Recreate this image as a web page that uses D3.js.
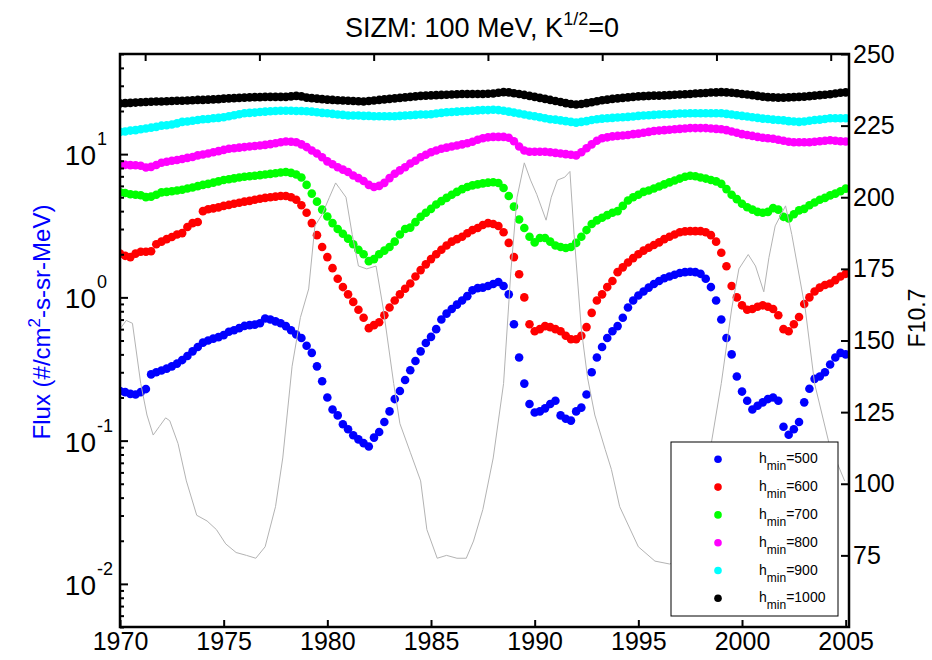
<!DOCTYPE html>
<html>
<head>
<meta charset="utf-8">
<script src="https://cdn.jsdelivr.net/npm/d3@7"></script>
<style>
  body { margin: 0; background: #fff; }
  svg { display: block; font-family: "Liberation Sans", Arial, sans-serif; }
</style>
</head>
<body>
<svg id="chart" width="932" height="660"></svg>
<script>
// sample times of the flux series: every quarter year, 1970.00 .. 2005.00
const sampleYears = d3.range(141).map(i => 1970 + i / 4);

// flux (#/cm2-s-sr-MeV), one row per year
const flux500 = [
  0.222,0.218,0.212,0.210, 0.218,0.229,0.290,0.300, 0.309,0.318,0.330,0.345, 0.365,0.390,0.420,0.450,
  0.483,0.500,0.515,0.528, 0.545,0.575,0.590,0.610, 0.632,0.640,0.645,0.660, 0.712,0.700,0.680,0.660,
  0.630,0.590,0.550,0.520, 0.460,0.410,0.330,0.260, 0.200,0.165,0.150,0.130, 0.120,0.109,0.102,0.096,
  0.091,0.105,0.115,0.135, 0.160,0.195,0.222,0.265, 0.310,0.360,0.420,0.480, 0.530,0.600,0.700,0.770,
  0.830,0.890,0.950,1.020, 1.120,1.160,1.170,1.200, 1.240,1.280,1.200,1.050, 0.650,0.380,0.250,0.180,
  0.157,0.160,0.168,0.180, 0.190,0.150,0.142,0.138, 0.160,0.170,0.210,0.300, 0.380,0.450,0.520,0.580,
  0.630,0.720,0.850,0.950, 1.030,1.100,1.170,1.240, 1.300,1.360,1.400,1.440, 1.480,1.500,1.510,1.500,
  1.460,1.350,1.180,0.950, 0.700,0.520,0.400,0.280, 0.220,0.190,0.165,0.175, 0.185,0.195,0.200,0.190,
  0.125,0.110,0.120,0.135, 0.185,0.230,0.270,0.280, 0.300,0.340,0.380,0.410, 0.400
];
const flux600 = [
  2.02,1.95,1.91,2.02, 2.08,2.08,2.10,2.35, 2.45,2.55,2.64,2.75, 2.81,3.10,3.30,3.36,
  4.00,4.12,4.18,4.25, 4.35,4.42,4.50,4.58, 4.66,4.72,4.80,4.88, 4.95,5.00,5.05,5.10,
  5.10,5.00,4.80,4.40, 3.90,3.30,2.72,2.25, 1.91,1.60,1.35,1.18, 1.05,0.93,0.82,0.72,
  0.61,0.64,0.67,0.75, 0.85,0.95,1.05,1.15, 1.25,1.40,1.55,1.70, 1.85,2.00,2.15,2.30,
  2.45,2.55,2.65,2.80, 2.95,3.05,3.20,3.30, 3.25,3.15,2.85,2.40, 1.91,1.45,1.00,0.65,
  0.58,0.60,0.63,0.62, 0.60,0.58,0.54,0.51, 0.51,0.54,0.62,0.78, 0.95,1.05,1.18,1.30,
  1.50,1.62,1.75,1.88, 2.00,2.12,2.22,2.32, 2.42,2.55,2.65,2.75, 2.85,2.89,2.90,2.90,
  2.90,2.85,2.72,2.45, 2.05,1.65,1.20,1.00, 0.88,0.82,0.83,0.86, 0.88,0.86,0.83,0.75,
  0.60,0.58,0.65,0.73, 0.90,1.00,1.10,1.17, 1.22,1.25,1.32,1.40, 1.46
];
const flux700 = [
  5.41,5.35,5.25,5.20, 5.16,5.01,5.05,5.20, 5.41,5.45,5.50,5.57, 5.64,5.75,5.85,5.98,
  6.10,6.20,6.32,6.45, 6.59,6.68,6.77,6.86, 6.95,7.00,7.07,7.13, 7.20,7.28,7.36,7.44,
  7.51,7.40,7.20,6.87, 6.10,5.30,4.66,4.10, 3.67,3.30,3.00,2.78, 2.57,2.35,2.15,2.00,
  1.79,1.85,2.00,2.12, 2.25,2.45,2.75,3.00, 3.07,3.35,3.65,3.90, 4.15,4.45,4.70,4.95,
  5.20,5.45,5.70,5.90, 6.05,6.15,6.25,6.32, 6.36,6.28,5.80,5.10, 4.30,3.50,3.05,2.65,
  2.42,2.60,2.60,2.45, 2.30,2.25,2.21,2.25, 2.40,2.65,2.95,3.25, 3.45,3.60,3.75,3.90,
  4.00,4.35,4.75,5.00, 5.20,5.45,5.57,5.75, 5.95,6.15,6.35,6.55, 6.75,6.95,7.07,7.00,
  6.87,6.75,6.60,6.45, 6.20,5.70,5.20,4.85, 4.50,4.26,4.10,3.95, 3.90,3.95,4.20,4.10,
  3.65,3.55,3.80,4.05, 4.15,4.40,4.60,4.80, 4.95,5.15,5.30,5.50, 5.74
];
const flux800 = [
  8.46,8.42,8.38,8.36, 8.30,8.07,8.15,8.40, 8.70,8.85,8.98,9.10, 9.25,9.42,9.55,9.80,
  9.95,10.1,10.3,10.5, 10.7,10.9,11.0,11.1, 11.2,11.3,11.4,11.5, 11.6,11.75,11.9,12.1,
  12.25,12.2,12.1,11.7, 11.2,10.6,10.1,9.5, 8.9,8.5,8.1,7.8, 7.5,7.1,6.8,6.5,
  6.1,5.9,6.0,6.3, 6.8,7.3,7.7,8.1, 8.6,9.0,9.5,9.9, 10.3,10.6,10.9,11.1,
  11.3,11.5,11.7,11.9, 12.2,12.6,12.9,13.1, 13.2,13.2,13.2,13.0, 12.3,11.3,10.6,10.4,
  10.4,10.4,10.4,10.3, 10.2,10.1,10.0,9.9, 9.8,10.3,11.0,11.7, 12.4,12.9,13.1,13.3,
  13.4,13.5,13.6,13.8, 13.9,14.1,14.3,14.5, 14.6,14.7,14.8,14.9, 15.0,15.1,15.2,15.2,
  15.2,15.2,15.1,15.0, 14.9,14.7,14.4,14.1, 13.8,13.6,13.4,13.2, 13.0,12.9,12.8,12.6,
  12.4,12.2,12.1,12.1, 12.1,12.1,12.2,12.3, 12.4,12.5,12.4,12.3, 12.25
];
const flux900 = [
  14.3,14.4,14.6,14.7, 14.9,15.1,15.3,15.5, 15.8,15.9,16.1,16.4, 16.8,16.9,17.1,17.3,
  17.5,17.6,17.8,17.9, 18.1,18.4,18.7,19.0, 19.3,19.4,19.5,19.7, 19.8,19.9,20.0,20.1,
  20.1,20.1,20.0,20.0, 19.9,19.8,19.6,19.4, 19.3,19.1,18.9,18.8, 18.6,18.6,18.6,18.5,
  18.5,18.4,18.4,18.4, 18.4,18.4,18.5,18.6, 18.7,18.8,18.9,18.9, 19.0,19.2,19.4,19.6,
  19.7,19.8,19.9,20.0, 20.1,20.2,20.3,20.3, 20.4,20.3,20.1,19.8, 19.5,19.2,18.9,18.6,
  18.4,18.1,17.8,17.5, 17.4,17.2,17.0,16.8, 16.6,16.8,17.0,17.3, 17.5,17.7,17.8,17.9,
  18.0,18.1,18.2,18.3, 18.5,18.6,18.7,18.8, 18.9,19.0,19.0,19.1, 19.2,19.2,19.3,19.3,
  19.3,19.3,19.3,19.3, 19.3,19.1,18.9,18.7, 18.5,18.3,18.1,17.9, 17.7,17.6,17.4,17.3,
  17.2,17.0,16.9,16.8, 16.9,17.1,17.3,17.4, 17.6,17.8,17.8,17.8, 17.8
];
const flux1000 = [
  22.6,22.7,22.8,22.9, 23.0,23.1,23.2,23.3, 23.3,23.4,23.5,23.6, 23.6,23.7,23.8,23.9,
  23.9,24.0,24.1,24.2, 24.4,24.5,24.6,24.7, 24.8,24.9,25.0,25.0, 25.1,25.1,25.1,25.1,
  25.1,25.3,25.5,25.3, 24.8,24.6,24.4,24.2, 24.0,23.9,23.8,23.7, 23.6,23.5,23.4,23.3,
  23.5,23.7,23.9,24.1, 24.3,24.5,24.7,24.9, 25.1,25.3,25.5,25.6, 25.7,25.8,25.9,26.0,
  26.1,26.2,26.3,26.3, 26.3,26.3,26.3,26.4, 26.5,26.8,27.1,27.0, 26.6,26.3,25.9,25.5,
  25.1,24.7,24.3,23.9, 23.5,23.1,22.7,22.4, 22.2,22.4,22.7,23.0, 23.4,23.8,24.0,24.3,
  24.5,24.7,24.9,25.1, 25.3,25.4,25.5,25.6, 25.6,25.7,25.8,26.0, 26.1,26.2,26.3,26.5,
  26.6,26.7,26.9,27.0, 27.1,27.0,26.8,26.6, 26.3,26.1,25.8,25.5, 25.2,25.0,24.9,24.8,
  24.8,24.9,25.0,25.1, 25.2,25.4,25.6,25.8, 26.0,26.2,26.5,26.8, 27.0
];

// F10.7 (right axis), read at the turning points of the grey curve
const f107Years = [
  1970.0,1970.3,1970.6,1971.0,1971.3,1971.6,1971.9,1972.2,1972.4,1972.8,1973.2,1973.7,1974.2,1974.65,
  1975.1,1975.6,1976.1,1976.55,1977.0,1977.5,1977.85,1978.3,1978.7,1979.1,1979.4,1979.75,1980.1,1980.4,
  1980.6,1980.9,1981.2,1981.5,1981.9,1982.35,1982.7,1983.2,1983.5,1984.0,1984.5,1984.8,1985.3,1985.75,
  1986.25,1986.7,1987.05,1987.5,1988.0,1988.5,1988.85,1989.15,1989.5,1989.8,1990.1,1990.55,1990.8,1991.1,
  1991.45,1991.7,1991.9,1992.25,1992.55,1992.9,1993.4,1993.7,1994.1,1995.0,1995.8,1996.5,1997.1,1997.75,
  1998.4,1999.0,1999.5,1999.85,2000.3,2000.65,2001.05,2001.3,2001.6,2002.1,2002.4,2003.05,2003.5,2004.2,2004.95
];
const f107Values = [
  154,157,156,135,124,117,120,123,122,114,101,89,87,84,
  79,76,75,74,78,92,109,141,158,168,190,194,200,205,
  203,200,187,176,175,176,161,135,121,111,101,84,74,75,
  74,74,80,91,109,135,174,200,212,206,201,192,200,206,
  207,209,187,154,137,124,112,105,92,78,73,72,73,74,
  109,135,161,175,180,176,167,179,190,197,187,161,135,114,101
];

const legendLabels = ["500", "600", "700", "800", "900", "1000"];
const seriesColors = ["#0000ff", "#ff0000", "#00ff00", "#ff00ff", "#00ffff", "#000000"];
const xTickYears = [1970, 1975, 1980, 1985, 1990, 1995, 2000, 2005];
const topTickValues = [1970, 1975, 1980, 1985, 1990, 1995, 2000];
const fluxMajor = [0.01, 0.1, 1, 10];
const fluxExponents = ["-2", "-1", "0", "1"];
const f107Ticks = [75, 100, 125, 150, 175, 200, 225, 250];

const allFlux = [flux500, flux600, flux700, flux800, flux900, flux1000];

// layout
const W = 932, H = 660;
const margin = {top: 54, right: 83, bottom: 33, left: 120};
const svg = d3.select('#chart');

const x = d3.scaleLinear().domain([1970, 2005.16]).range([margin.left, W - margin.right]);
// the second (F10.7) axes carries its own top ticks
const xTop = d3.scaleLinear().domain([1968.9, 2000.8]).range([margin.left, W - margin.right]);
const yFlux = d3.scaleLog().domain([0.005, 50]).range([H - margin.bottom, margin.top]);
const yF = d3.scaleLinear().domain([50, 250]).range([H - margin.bottom, margin.top]);

svg.append('defs').append('clipPath').attr('id', 'plotclip')
    .append('rect')
    .attr('x', margin.left).attr('y', margin.top)
    .attr('width', W - margin.left - margin.right)
    .attr('height', H - margin.top - margin.bottom);

const plot = svg.append('g').attr('clip-path', 'url(#plotclip)');

// flux dots
allFlux.forEach((series, k) => {
    plot.append('g')
        .attr('fill', seriesColors[k])
        .selectAll('circle')
        .data(series.map((v, i) => ({t: sampleYears[i], v: v})))
        .enter().append('circle')
        .attr('cx', d => x(d.t))
        .attr('cy', d => yFlux(d.v))
        .attr('r', 4.3);
});

// F10.7 curve sits on top (second axes)
const f107 = f107Years.map((t, i) => ({t: t, v: f107Values[i]}));
plot.append('path')
    .datum(f107)
    .attr('fill', 'none')
    .attr('stroke', '#b3b3b3')
    .attr('stroke-width', 1)
    .attr('d', d3.line().x(d => x(d.t)).y(d => yF(d.v)));

// axes
function styleAxis(g, size) {
    g.select('.domain').remove();
    g.selectAll('.tick line').attr('stroke', '#000').attr('stroke-width', 2);
    g.selectAll('.tick text').attr('fill', '#000');
    g.attr('font-size', size).attr('font-family', null);
}

svg.append('g')
    .attr('transform', `translate(0,${H - margin.bottom})`)
    .call(d3.axisBottom(x).tickValues(xTickYears).tickSize(-7).tickSizeOuter(0)
            .tickPadding(5).tickFormat(d3.format('d')))
    .call(g => styleAxis(g, 25));

svg.append('g')
    .attr('transform', `translate(0,${margin.top})`)
    .call(d3.axisTop(xTop).tickValues(topTickValues).tickSize(-7).tickSizeOuter(0).tickFormat(''))
    .call(g => styleAxis(g, 25));

const isDecade = v => Math.abs(Math.log10(v) - Math.round(Math.log10(v))) < 1e-6;
svg.append('g')
    .attr('transform', `translate(${margin.left},0)`)
    .call(d3.axisLeft(yFlux).tickValues(yFlux.ticks().filter(v => !isDecade(v)))
            .tickSize(-4).tickSizeOuter(0).tickFormat(''))
    .call(g => styleAxis(g, 25));
svg.append('g')
    .attr('transform', `translate(${margin.left},0)`)
    .call(d3.axisLeft(yFlux).tickValues(fluxMajor).tickSize(-8).tickSizeOuter(0).tickFormat(''))
    .call(g => styleAxis(g, 25));

// 10^n labels
const fluxLabels = svg.append('g').attr('fill', '#000');
fluxMajor.forEach((v, i) => {
    fluxLabels.append('text')
        .attr('x', 96).attr('y', yFlux(v) + 11)
        .attr('text-anchor', 'end')
        .attr('font-size', 28)
        .text('10');
    fluxLabels.append('text')
        .attr('x', 97).attr('y', yFlux(v) - 9)
        .attr('font-size', 18)
        .text(fluxExponents[i]);
});

svg.append('g')
    .attr('transform', `translate(${W - margin.right},0)`)
    .call(d3.axisRight(yF).tickValues(f107Ticks).tickSize(-8).tickSizeOuter(0).tickPadding(4))
    .call(g => styleAxis(g, 25));

// frame
svg.append('rect')
    .attr('x', margin.left).attr('y', margin.top)
    .attr('width', W - margin.left - margin.right)
    .attr('height', H - margin.top - margin.bottom)
    .attr('fill', 'none')
    .attr('stroke', '#000')
    .attr('stroke-width', 2.5);

// title
const title = svg.append('text')
    .attr('x', 482).attr('y', 37)
    .attr('text-anchor', 'middle')
    .attr('font-size', 27)
    .attr('fill', '#000');
title.append('tspan').text('SIZM: 100 MeV, K');
title.append('tspan').attr('font-size', 18).attr('dy', -12).text('1/2');
title.append('tspan').attr('dy', 12).text('=0');

// y labels
const yl = svg.append('text')
    .attr('transform', 'translate(50,322) rotate(-90)')
    .attr('text-anchor', 'middle')
    .attr('font-size', 24)
    .attr('fill', '#0000ff');
yl.append('tspan').text('Flux (#/cm');
yl.append('tspan').attr('font-size', 17).attr('dy', -10).text('2');
yl.append('tspan').attr('dy', 10).text('-s-sr-MeV)');

svg.append('text')
    .attr('transform', 'translate(925,318) rotate(-90)')
    .attr('text-anchor', 'middle')
    .attr('font-size', 23)
    .attr('fill', '#000')
    .text('F10.7');

// legend
const legend = svg.append('g');
legend.append('rect')
    .attr('x', 671).attr('y', 442)
    .attr('width', 167).attr('height', 174)
    .attr('fill', '#fff')
    .attr('stroke', '#000')
    .attr('stroke-width', 1);

legendLabels.forEach((lab, i) => {
    const ry = 459.3 + i * 27.8;
    legend.append('circle')
        .attr('cx', 718).attr('cy', ry)
        .attr('r', 3.8)
        .attr('fill', seriesColors[i]);
    const t = legend.append('text')
        .attr('x', 759).attr('y', ry + 4)
        .attr('font-size', 14)
        .attr('fill', '#000');
    t.append('tspan').text('h');
    t.append('tspan').attr('font-size', 12).attr('dy', 7).text('min');
    t.append('tspan').attr('dy', -7).text('=' + lab);
});
</script>
</body>
</html>
